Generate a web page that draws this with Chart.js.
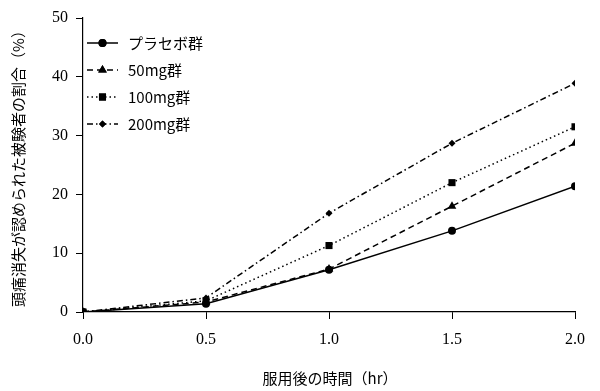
<!DOCTYPE html>
<html><head><meta charset="utf-8">
<script src="https://cdn.jsdelivr.net/npm/chart.js@4"></script>
<style>html,body{margin:0;padding:0;background:#fff}#c{display:block}</style>
</head><body>
<canvas id="c" width="600" height="391"></canvas>
<script>
const hours = [0.0, 0.5, 1.0, 1.5, 2.0];
const seriesNames = ['プラセボ群', '50mg群', '100mg群', '200mg群'];
const placebo = [0, 1.4, 7.2, 13.8, 21.4];
const mg50 = [0, 1.7, 7.3, 18.0, 28.7];
const mg100 = [0, 1.9, 11.3, 22.0, 31.5];
const mg200 = [0, 2.4, 16.8, 28.7, 38.9];
const yTicks = [0, 10, 20, 30, 40, 50];
const xTicks = [0.0, 0.5, 1.0, 1.5, 2.0];
const xTitle = '服用後の時間（hr）';
const yTitle = '頭痛消失が認められた被験者の割合（%）';

const styles = [
  {dash: [], pt: 'circle', r: 4},
  {dash: [6, 4], pt: 'triangle', r: 5},
  {dash: [1.5, 3], pt: 'rect', r: 5},
  {dash: [6, 3, 1.5, 3], pt: 'rectRot', r: 3.5}
];
const allData = [placebo, mg50, mg100, mg200];
const CJK = '"Noto Sans CJK JP", sans-serif';
const NUM = '"Liberation Serif", "DejaVu Serif", serif';

const datasets = allData.map((vals, i) => ({
  label: seriesNames[i],
  data: vals.map((v, j) => ({x: hours[j], y: v})),
  borderColor: '#000', backgroundColor: '#000',
  borderWidth: 1.5, borderDash: styles[i].dash,
  pointStyle: styles[i].pt, pointRadius: styles[i].r,
  pointBorderWidth: 0, tension: 0, fill: false
}));

const decor = {
  id: 'decor',
  afterDraw(chart) {
    const ctx = chart.ctx;
    ctx.save();
    const lx0 = 87, lx1 = 118, tx = 128;
    const ys = [43, 70, 97, 124];
    styles.forEach((s, i) => {
      const y = ys[i];
      ctx.strokeStyle = '#000'; ctx.lineWidth = 1.5;
      ctx.setLineDash(s.dash);
      ctx.beginPath(); ctx.moveTo(lx0, y); ctx.lineTo(lx1, y); ctx.stroke();
      ctx.setLineDash([]);
      ctx.fillStyle = '#000';
      Chart.helpers.drawPoint(ctx, {pointStyle: s.pt, radius: s.r, rotation: 0, borderWidth: 0}, (lx0 + lx1) / 2, y);
      ctx.fill();
      ctx.font = '15px ' + CJK;
      ctx.textAlign = 'left'; ctx.textBaseline = 'middle';
      ctx.fillText(seriesNames[i], tx, y);
    });
    ctx.font = '15px ' + CJK;
    ctx.textAlign = 'center'; ctx.textBaseline = 'middle';
    ctx.fillText(xTitle, 330, 378);
    ctx.translate(18, 165);
    ctx.rotate(-Math.PI / 2);
    ctx.fillText(yTitle, 0, 0);
    ctx.restore();
  }
};

new Chart(document.getElementById('c'), {
  type: 'line',
  data: {datasets},
  options: {
    responsive: false, animation: false,
    layout: {padding: {left: 0, right: 25, top: 18, bottom: 0}},
    plugins: {legend: {display: false}, tooltip: {enabled: false}},
    scales: {
      x: {
        type: 'linear', min: 0, max: 2,
        afterBuildTicks: s => { s.ticks = xTicks.map(v => ({value: v})); },
        afterFit: s => { s.height = 79; },
        grid: {drawOnChartArea: false, drawTicks: true, tickLength: 7, color: '#000', lineWidth: 1},
        border: {display: true, color: '#000', width: 1.2},
        ticks: {color: '#000', font: {family: NUM, size: 16}, padding: 11, maxRotation: 0,
          callback: v => Number(v).toFixed(1)}
      },
      y: {
        min: 0, max: 50,
        afterBuildTicks: s => { s.ticks = yTicks.map(v => ({value: v})); },
        afterFit: s => { s.width = 83; },
        grid: {drawOnChartArea: false, drawTicks: true, tickLength: 7, color: '#000', lineWidth: 1},
        border: {display: true, color: '#000', width: 1.2},
        ticks: {color: '#000', font: {family: NUM, size: 16}, padding: 8}
      }
    }
  },
  plugins: [decor]
});
</script>
</body></html>
